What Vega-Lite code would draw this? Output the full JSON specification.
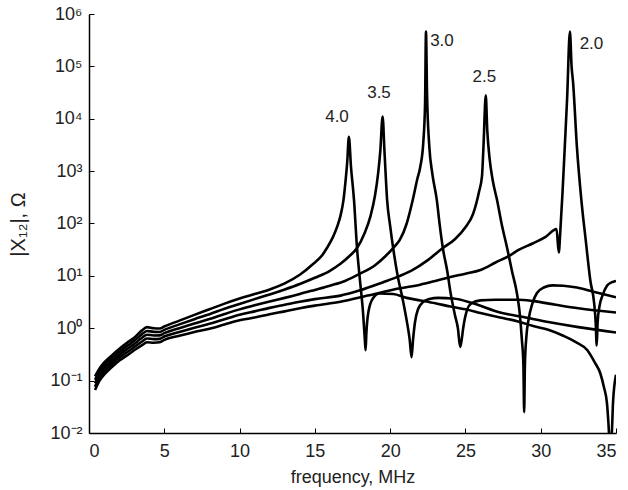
{
  "$schema": "https://vega.github.io/schema/vega-lite/v6.json",
  "width": 527,
  "height": 419,
  "autosize": {"type": "none"},
  "padding": {"left": 89, "top": 14, "right": 12, "bottom": 57},
  "background": "white",
  "config": {
    "view": {"stroke": null},
    "font": "Liberation Sans",
    "axis": {
      "grid": false,
      "domainColor": "#000",
      "domainWidth": 1.5,
      "tickColor": "#000",
      "tickWidth": 1,
      "tickSize": -5,
      "labelFont": "Liberation Sans",
      "labelFontSize": 18,
      "labelColor": "#222",
      "titleFont": "Liberation Sans",
      "titleFontSize": 18,
      "titleFontWeight": "normal",
      "titleColor": "#222"
    }
  },
  "datasets": {
    "curves": [
      {"series":"4.0","freq":0.4,"x12":0.12},{"series":"4.0","freq":0.7,"x12":0.17},{"series":"4.0","freq":1.0,"x12":0.22},{"series":"4.0","freq":1.5,"x12":0.3},{"series":"4.0","freq":2.0,"x12":0.4},{"series":"4.0","freq":2.5,"x12":0.52},{"series":"4.0","freq":3.0,"x12":0.66},{"series":"4.0","freq":3.5,"x12":0.9},{"series":"4.0","freq":3.85,"x12":1.05},{"series":"4.0","freq":4.3,"x12":1.0},{"series":"4.0","freq":4.7,"x12":0.99},{"series":"4.0","freq":5.0,"x12":1.08},{"series":"4.0","freq":6,"x12":1.4},{"series":"4.0","freq":7,"x12":1.8},{"series":"4.0","freq":8,"x12":2.3},{"series":"4.0","freq":9,"x12":2.95},{"series":"4.0","freq":10,"x12":3.7},{"series":"4.0","freq":11,"x12":4.5},{"series":"4.0","freq":12,"x12":5.5},{"series":"4.0","freq":13,"x12":7.2},{"series":"4.0","freq":14,"x12":10.5},{"series":"4.0","freq":14.9,"x12":17},{"series":"4.0","freq":15.5,"x12":25},{"series":"4.0","freq":15.8,"x12":34},{"series":"4.0","freq":16.2,"x12":55},{"series":"4.0","freq":16.5,"x12":90},{"series":"4.0","freq":16.7,"x12":140},{"series":"4.0","freq":16.9,"x12":280},{"series":"4.0","freq":17.05,"x12":700},{"series":"4.0","freq":17.15,"x12":1500},{"series":"4.0","freq":17.26,"x12":4500},{"series":"4.0","freq":17.4,"x12":1200},{"series":"4.0","freq":17.6,"x12":280},{"series":"4.0","freq":17.8,"x12":34},{"series":"4.0","freq":18.0,"x12":8},{"series":"4.0","freq":18.2,"x12":2},{"series":"4.0","freq":18.32,"x12":0.6},{"series":"4.0","freq":18.37,"x12":0.38},{"series":"4.0","freq":18.42,"x12":0.8},{"series":"4.0","freq":18.55,"x12":2},{"series":"4.0","freq":18.85,"x12":3.7},{"series":"4.0","freq":19.3,"x12":4.6},{"series":"4.0","freq":20.2,"x12":4.5},{"series":"4.0","freq":21.1,"x12":3.8},{"series":"4.0","freq":22,"x12":3.4},{"series":"4.0","freq":23,"x12":3.0},{"series":"4.0","freq":24,"x12":2.6},{"series":"4.0","freq":25,"x12":2.3},{"series":"4.0","freq":26,"x12":1.95},{"series":"4.0","freq":27.3,"x12":1.6},{"series":"4.0","freq":28.5,"x12":1.35},{"series":"4.0","freq":29.5,"x12":1.1},{"series":"4.0","freq":30.6,"x12":0.92},{"series":"4.0","freq":31.5,"x12":0.72},{"series":"4.0","freq":32.3,"x12":0.55},{"series":"4.0","freq":33.1,"x12":0.38},{"series":"4.0","freq":33.6,"x12":0.22},{"series":"4.0","freq":33.95,"x12":0.14},{"series":"4.0","freq":34.2,"x12":0.075},{"series":"4.0","freq":34.4,"x12":0.037},{"series":"4.0","freq":34.5,"x12":0.015},{"series":"4.0","freq":34.6,"x12":0.005},{"series":"4.0","freq":34.73,"x12":0.011},{"series":"4.0","freq":34.8,"x12":0.037},{"series":"4.0","freq":35,"x12":0.13},

      {"series":"3.5","freq":0.4,"x12":0.1035},{"series":"3.5","freq":0.7,"x12":0.149},{"series":"3.5","freq":1.0,"x12":0.193},{"series":"3.5","freq":1.5,"x12":0.264},{"series":"3.5","freq":2.0,"x12":0.352},{"series":"3.5","freq":2.5,"x12":0.453},{"series":"3.5","freq":3.0,"x12":0.575},{"series":"3.5","freq":3.5,"x12":0.765},{"series":"3.5","freq":3.85,"x12":0.889},{"series":"3.5","freq":4.3,"x12":0.853},{"series":"3.5","freq":4.7,"x12":0.85},{"series":"3.5","freq":5.0,"x12":0.932},{"series":"3.5","freq":6,"x12":1.186},{"series":"3.5","freq":7,"x12":1.492},{"series":"3.5","freq":8,"x12":1.858},{"series":"3.5","freq":9,"x12":2.346},{"series":"3.5","freq":10,"x12":2.914},{"series":"3.5","freq":11,"x12":3.6},{"series":"3.5","freq":12,"x12":4.4},{"series":"3.5","freq":13,"x12":5.5},{"series":"3.5","freq":14,"x12":7.0},{"series":"3.5","freq":15,"x12":9.2},{"series":"3.5","freq":16,"x12":12.5},{"series":"3.5","freq":16.7,"x12":17},{"series":"3.5","freq":17.3,"x12":24},{"series":"3.5","freq":17.8,"x12":34},{"series":"3.5","freq":18.3,"x12":65},{"series":"3.5","freq":18.7,"x12":140},{"series":"3.5","freq":19.0,"x12":350},{"series":"3.5","freq":19.2,"x12":900},{"series":"3.5","freq":19.35,"x12":2500},{"series":"3.5","freq":19.5,"x12":11000},{"series":"3.5","freq":19.62,"x12":2500},{"series":"3.5","freq":19.8,"x12":280},{"series":"3.5","freq":20.0,"x12":90},{"series":"3.5","freq":20.2,"x12":34},{"series":"3.5","freq":20.5,"x12":10},{"series":"3.5","freq":20.85,"x12":3.4},{"series":"3.5","freq":21.1,"x12":1.4},{"series":"3.5","freq":21.3,"x12":0.6},{"series":"3.5","freq":21.42,"x12":0.28},{"series":"3.5","freq":21.52,"x12":0.6},{"series":"3.5","freq":21.65,"x12":1.3},{"series":"3.5","freq":21.85,"x12":2.3},{"series":"3.5","freq":22.2,"x12":3.2},{"series":"3.5","freq":22.6,"x12":3.6},{"series":"3.5","freq":23.2,"x12":3.8},{"series":"3.5","freq":24.2,"x12":3.7},{"series":"3.5","freq":25.5,"x12":3.0},{"series":"3.5","freq":27.3,"x12":2.0},{"series":"3.5","freq":29,"x12":1.6},{"series":"3.5","freq":30.6,"x12":1.3},{"series":"3.5","freq":32.5,"x12":1.05},{"series":"3.5","freq":35,"x12":0.83},

      {"series":"3.0","freq":0.4,"x12":0.089},{"series":"3.0","freq":0.7,"x12":0.13},{"series":"3.0","freq":1.0,"x12":0.169},{"series":"3.0","freq":1.5,"x12":0.232},{"series":"3.0","freq":2.0,"x12":0.31},{"series":"3.0","freq":2.5,"x12":0.395},{"series":"3.0","freq":3.0,"x12":0.5},{"series":"3.0","freq":3.5,"x12":0.65},{"series":"3.0","freq":3.85,"x12":0.753},{"series":"3.0","freq":4.3,"x12":0.728},{"series":"3.0","freq":4.7,"x12":0.731},{"series":"3.0","freq":5.0,"x12":0.805},{"series":"3.0","freq":6,"x12":1.004},{"series":"3.0","freq":7,"x12":1.237},{"series":"3.0","freq":8,"x12":1.501},{"series":"3.0","freq":9,"x12":1.866},{"series":"3.0","freq":10,"x12":2.293},{"series":"3.0","freq":11,"x12":2.75},{"series":"3.0","freq":12,"x12":3.25},{"series":"3.0","freq":13,"x12":3.8},{"series":"3.0","freq":14,"x12":4.5},{"series":"3.0","freq":15,"x12":5.4},{"series":"3.0","freq":16,"x12":6.5},{"series":"3.0","freq":17,"x12":8},{"series":"3.0","freq":18,"x12":11},{"series":"3.0","freq":19,"x12":16},{"series":"3.0","freq":19.7,"x12":24},{"series":"3.0","freq":20.2,"x12":34},{"series":"3.0","freq":20.65,"x12":49},{"series":"3.0","freq":21.1,"x12":100},{"series":"3.0","freq":21.5,"x12":280},{"series":"3.0","freq":21.8,"x12":700},{"series":"3.0","freq":22.0,"x12":1200},{"series":"3.0","freq":22.2,"x12":3500},{"series":"3.0","freq":22.32,"x12":20000},{"series":"3.0","freq":22.38,"x12":460000},{"series":"3.0","freq":22.45,"x12":30000},{"series":"3.0","freq":22.6,"x12":3000},{"series":"3.0","freq":22.8,"x12":900},{"series":"3.0","freq":23.1,"x12":280},{"series":"3.0","freq":23.3,"x12":90},{"series":"3.0","freq":23.5,"x12":34},{"series":"3.0","freq":23.8,"x12":12},{"series":"3.0","freq":24.0,"x12":5},{"series":"3.0","freq":24.3,"x12":1.8},{"series":"3.0","freq":24.5,"x12":1.0},{"series":"3.0","freq":24.65,"x12":0.44},{"series":"3.0","freq":24.75,"x12":0.6},{"series":"3.0","freq":24.85,"x12":1.0},{"series":"3.0","freq":25.1,"x12":2.2},{"series":"3.0","freq":25.4,"x12":3.0},{"series":"3.0","freq":26.0,"x12":3.4},{"series":"3.0","freq":27,"x12":3.5},{"series":"3.0","freq":28.5,"x12":3.5},{"series":"3.0","freq":29.5,"x12":3.3},{"series":"3.0","freq":31,"x12":2.8},{"series":"3.0","freq":32.5,"x12":2.4},{"series":"3.0","freq":35,"x12":2.0},

      {"series":"2.5","freq":0.4,"x12":0.0766},{"series":"2.5","freq":0.7,"x12":0.114},{"series":"2.5","freq":1.0,"x12":0.148},{"series":"2.5","freq":1.5,"x12":0.2045},{"series":"2.5","freq":2.0,"x12":0.273},{"series":"2.5","freq":2.5,"x12":0.344},{"series":"2.5","freq":3.0,"x12":0.436},{"series":"2.5","freq":3.5,"x12":0.553},{"series":"2.5","freq":3.85,"x12":0.638},{"series":"2.5","freq":4.3,"x12":0.621},{"series":"2.5","freq":4.7,"x12":0.628},{"series":"2.5","freq":5.0,"x12":0.695},{"series":"2.5","freq":6,"x12":0.85},{"series":"2.5","freq":7,"x12":1.025},{"series":"2.5","freq":8,"x12":1.213},{"series":"2.5","freq":9,"x12":1.484},{"series":"2.5","freq":10,"x12":1.804},{"series":"2.5","freq":11,"x12":2.1},{"series":"2.5","freq":12,"x12":2.45},{"series":"2.5","freq":13,"x12":2.8},{"series":"2.5","freq":14,"x12":3.2},{"series":"2.5","freq":15,"x12":3.6},{"series":"2.5","freq":16.7,"x12":4.2},{"series":"2.5","freq":18,"x12":5.3},{"series":"2.5","freq":19.5,"x12":7.5},{"series":"2.5","freq":20.65,"x12":10},{"series":"2.5","freq":21.5,"x12":13},{"series":"2.5","freq":22.5,"x12":20},{"series":"2.5","freq":23.5,"x12":34},{"series":"2.5","freq":24.3,"x12":50},{"series":"2.5","freq":25,"x12":85},{"series":"2.5","freq":25.5,"x12":150},{"series":"2.5","freq":25.9,"x12":400},{"series":"2.5","freq":26.1,"x12":800},{"series":"2.5","freq":26.2,"x12":3000},{"series":"2.5","freq":26.35,"x12":28000},{"series":"2.5","freq":26.45,"x12":6000},{"series":"2.5","freq":26.6,"x12":1800},{"series":"2.5","freq":26.8,"x12":700},{"series":"2.5","freq":27.1,"x12":280},{"series":"2.5","freq":27.4,"x12":100},{"series":"2.5","freq":27.8,"x12":31},{"series":"2.5","freq":28.1,"x12":12},{"series":"2.5","freq":28.4,"x12":5},{"series":"2.5","freq":28.6,"x12":2},{"series":"2.5","freq":28.75,"x12":0.6},{"series":"2.5","freq":28.85,"x12":0.2},{"series":"2.5","freq":28.9,"x12":0.025},{"series":"2.5","freq":28.95,"x12":0.2},{"series":"2.5","freq":29.05,"x12":0.7},{"series":"2.5","freq":29.2,"x12":1.5},{"series":"2.5","freq":29.45,"x12":3},{"series":"2.5","freq":29.75,"x12":4.7},{"series":"2.5","freq":30.2,"x12":6},{"series":"2.5","freq":30.8,"x12":6.6},{"series":"2.5","freq":31.5,"x12":6.5},{"series":"2.5","freq":32.4,"x12":6.0},{"series":"2.5","freq":33.5,"x12":5.0},{"series":"2.5","freq":35,"x12":3.9},

      {"series":"2.0","freq":0.4,"x12":0.066},{"series":"2.0","freq":0.7,"x12":0.1},{"series":"2.0","freq":1.0,"x12":0.13},{"series":"2.0","freq":1.5,"x12":0.18},{"series":"2.0","freq":2.0,"x12":0.24},{"series":"2.0","freq":2.5,"x12":0.3},{"series":"2.0","freq":3.0,"x12":0.38},{"series":"2.0","freq":3.5,"x12":0.47},{"series":"2.0","freq":3.85,"x12":0.54},{"series":"2.0","freq":4.3,"x12":0.53},{"series":"2.0","freq":4.7,"x12":0.54},{"series":"2.0","freq":5.0,"x12":0.6},{"series":"2.0","freq":6,"x12":0.72},{"series":"2.0","freq":7,"x12":0.85},{"series":"2.0","freq":8,"x12":0.98},{"series":"2.0","freq":9,"x12":1.18},{"series":"2.0","freq":10,"x12":1.42},{"series":"2.0","freq":11,"x12":1.6},{"series":"2.0","freq":12,"x12":1.85},{"series":"2.0","freq":13,"x12":2.1},{"series":"2.0","freq":14,"x12":2.4},{"series":"2.0","freq":15,"x12":2.7},{"series":"2.0","freq":16.7,"x12":3.2},{"series":"2.0","freq":18.5,"x12":4.2},{"series":"2.0","freq":20.65,"x12":5.8},{"series":"2.0","freq":22,"x12":6.8},{"series":"2.0","freq":23,"x12":8},{"series":"2.0","freq":24,"x12":9.5},{"series":"2.0","freq":25,"x12":11},{"series":"2.0","freq":26,"x12":13},{"series":"2.0","freq":27,"x12":18},{"series":"2.0","freq":28,"x12":25},{"series":"2.0","freq":28.5,"x12":31},{"series":"2.0","freq":29.5,"x12":42},{"series":"2.0","freq":30.3,"x12":55},{"series":"2.0","freq":31.05,"x12":78},{"series":"2.0","freq":31.2,"x12":28},{"series":"2.0","freq":31.3,"x12":70},{"series":"2.0","freq":31.45,"x12":400},{"series":"2.0","freq":31.6,"x12":3000},{"series":"2.0","freq":31.75,"x12":23000},{"series":"2.0","freq":31.94,"x12":460000},{"series":"2.0","freq":32.05,"x12":100000},{"series":"2.0","freq":32.15,"x12":49000},{"series":"2.0","freq":32.4,"x12":3000},{"series":"2.0","freq":32.7,"x12":280},{"series":"2.0","freq":33.0,"x12":45},{"series":"2.0","freq":33.3,"x12":8},{"series":"2.0","freq":33.55,"x12":3},{"series":"2.0","freq":33.65,"x12":1.3},{"series":"2.0","freq":33.72,"x12":0.47},{"series":"2.0","freq":33.78,"x12":1.3},{"series":"2.0","freq":33.9,"x12":2.6},{"series":"2.0","freq":34.1,"x12":4.2},{"series":"2.0","freq":34.4,"x12":6.5},{"series":"2.0","freq":34.7,"x12":7.5},{"series":"2.0","freq":35,"x12":8}
    ],
    "labels": [
      {"label":"4.0","freq":16.47,"x12":10900},
      {"label":"3.5","freq":19.26,"x12":30800},
      {"label":"3.0","freq":23.44,"x12":302000},
      {"label":"2.5","freq":26.26,"x12":63000},
      {"label":"2.0","freq":33.37,"x12":270000}
    ]
  },
  "layer": [
    {
      "data": {"name": "curves"},
      "mark": {"type": "line", "color": "#000", "strokeWidth": 2.6, "clip": true, "strokeJoin": "round", "interpolate": "monotone"},
      "encoding": {
        "x": {
          "field": "freq", "type": "quantitative",
          "scale": {"domain": [0, 35], "nice": false, "zero": false},
          "axis": {"values": [0,5,10,15,20,25,30,35], "title": "frequency, MHz", "labelPadding": 14, "titleY": 35, "titleBaseline": "top"}
        },
        "y": {
          "field": "x12", "type": "quantitative",
          "scale": {"type": "log", "domain": [0.01, 1000000], "nice": false},
          "axis": {
            "values": [0.01, 0.1, 1, 10, 100, 1000, 10000, 100000, 1000000],
            "labelExpr": "['10⁻²','10⁻¹','10⁰','10¹','10²','10³','10⁴','10⁵','10⁶'][round(log(datum.value)/LN10)+2]",
            "labelPadding": 12,
            "title": "|X₁₂|, Ω",
            "titleFontSize": 20,
            "titleX": -71,
            "titleY": 210,
            "titleBaseline": "middle",
            "titleAngle": -90
          }
        },
        "detail": {"field": "series", "type": "nominal"}
      }
    },
    {
      "data": {"name": "labels"},
      "mark": {"type": "text", "fontSize": 17, "font": "Liberation Sans", "color": "#222", "baseline": "middle", "align": "center"},
      "encoding": {
        "x": {"field": "freq", "type": "quantitative"},
        "y": {"field": "x12", "type": "quantitative"},
        "text": {"field": "label", "type": "nominal"}
      }
    }
  ]
}
